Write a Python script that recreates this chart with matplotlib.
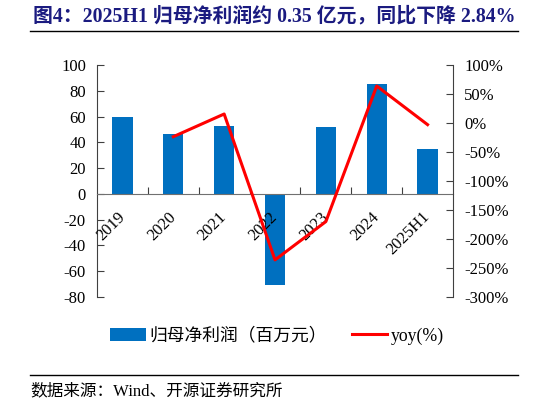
import matplotlib
matplotlib.use("Agg")
import matplotlib.pyplot as plt
from matplotlib.patches import Patch
from matplotlib.lines import Line2D
from matplotlib.ticker import FuncFormatter

plt.rcParams["axes.unicode_minus"] = False

# data
years = ["2019", "2020", "2021", "2022", "2023", "2024", "2025H1"]
profit = [60.0, 46.2, 52.7, -70.7, 52.1, 85.0, 35.1]      # 百万元
yoy = [None, -23.6, 15.5, -236.0, -170.0, 63.8, -2.84]    # %

mixed = ["Liberation Serif", "Noto Sans CJK SC"]
blue = "#0070C0"
red = "#FF0000"
navy = "#1B1B80"

W, H = 546, 405
fig = plt.figure(figsize=(W / 100, H / 100), dpi=100)

ax = fig.add_axes([97 / W, 1 - 297 / H, (453 - 97) / W, (297 - 65) / H])
x = list(range(len(years)))
ax.bar(x, profit, width=0.4, color=blue, zorder=1)
ax.set_axisbelow(False)
ax.set_xlim(-0.5, len(years) - 0.5)
ax.set_ylim(-80, 100)
ax.set_yticks(range(-80, 101, 20))

for s in ["top", "right"]:
    ax.spines[s].set_visible(False)
ax.spines["left"].set_color("#404040")
ax.spines["bottom"].set_position(("data", 0))
ax.spines["bottom"].set_color("#707070")
ax.spines["bottom"].set_zorder(3)

ax.tick_params(axis="y", direction="in", length=5, labelsize=12, colors="#404040", labelcolor="black", pad=8)
for lab in ax.get_yticklabels():
    lab.set_family("Liberation Serif")

# category boundaries as major ticks, labels on minor ticks
ax.set_xticks([i + 0.5 for i in x[:-1]])
ax.set_xticklabels([])
ax.tick_params(axis="x", which="major", direction="in", length=5, colors="#404040")
ax.set_xticks(x, minor=True)
ax.set_xticklabels(years, minor=True, rotation=45, ha="right", rotation_mode="anchor",
                   family="Liberation Serif", fontsize=12)
ax.tick_params(axis="x", which="minor", length=0, pad=15)
for lab in ax.get_xticklabels(minor=True):
    lab.set_verticalalignment("center")

ax2 = ax.twinx()
xs = [i for i, v in zip(x, yoy) if v is not None]
ys = [v for v in yoy if v is not None]
ax2.plot(xs, ys, color=red, linewidth=2.2, zorder=4)
ax2.set_ylim(-300, 100)
ax2.set_yticks(range(-300, 101, 50))
ax2.yaxis.set_major_formatter(FuncFormatter(lambda v, p: f"{int(v)}%"))
for s in ["top", "left", "bottom"]:
    ax2.spines[s].set_visible(False)
ax2.spines["right"].set_color("#404040")
ax2.tick_params(axis="y", direction="in", length=5, labelsize=12, colors="#404040", labelcolor="black", pad=8)
for lab in ax2.get_yticklabels():
    lab.set_family("Liberation Serif")

# title and rules
fig.text(33 / W, 1 - 16 / H, "图4：2025H1 归母净利润约 0.35 亿元，同比下降 2.84%",
         family=mixed, fontweight="bold", fontsize=14.3, color=navy, va="center", ha="left")
fig.add_artist(Line2D([30 / W, 518 / W], [1 - 31 / H, 1 - 31 / H], color="black", linewidth=1))
fig.add_artist(Line2D([30 / W, 518 / W], [1 - 375 / H, 1 - 375 / H], color="black", linewidth=1))
fig.text(30 / W, 1 - 391 / H, "数据来源：Wind、开源证券研究所", family=mixed, fontsize=12,
         va="center", ha="left")

handles = [Patch(facecolor=blue), Line2D([0], [0], color=red, linewidth=2.2)]
fig.legend(handles, ["归母净利润（百万元）", "yoy(%)"], loc="center",
           bbox_to_anchor=(277 / W, 1 - 336 / H), ncol=2, frameon=False,
           prop={"family": mixed, "size": 12.8}, handlelength=2.0, handletextpad=0.2,
           columnspacing=1.4)

fig.savefig("out.png", dpi=100)
